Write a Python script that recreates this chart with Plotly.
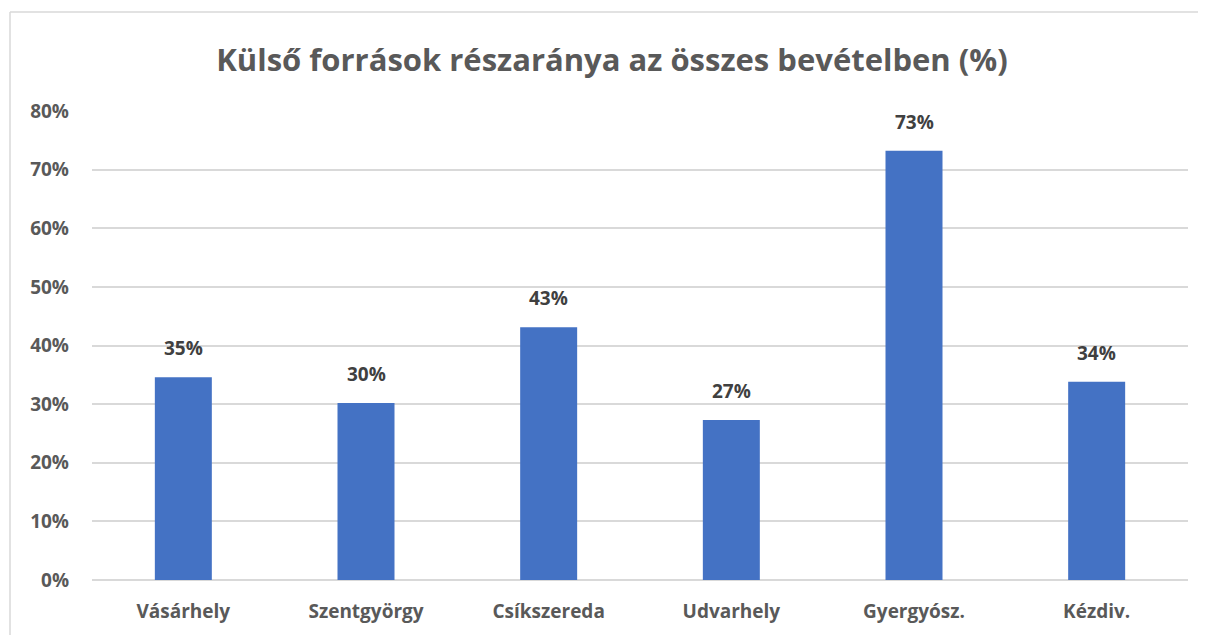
import plotly.graph_objects as go

categories = ["Vásárhely", "Szentgyörgy", "Csíkszereda", "Udvarhely", "Gyergyósz.", "Kézdiv."]
values = [0.346, 0.302, 0.431, 0.273, 0.732, 0.338]
tick_vals = [0, 0.1, 0.2, 0.3, 0.4, 0.5, 0.6, 0.7, 0.8]
title_text = "Külső források részaránya az összes bevételben (%)"

FONT = "'Open Sans', sans-serif"

fig = go.Figure()
fig.add_trace(go.Bar(
    x=categories, y=values,
    marker=dict(color="#4472C4", line=dict(width=0)),
    hoverinfo="x+y",
))

for c, v in zip(categories, values):
    fig.add_annotation(
        x=c, y=v, text=f"{round(v*100):.0f}%", showarrow=False,
        yanchor="bottom", yshift=14,
        font=dict(family=FONT, size=19, color="#404040", weight="bold"),
    )

# page has an 8px body margin, so the figure starts at (8, 8)
W, H = 1198, 627
ml, mr, mt, mb = 84, 18, 103, 55
pw = W - ml - mr
ph = H - mt - mb
# chart border (left and top visible)
bx0 = (2 - ml) / pw
by1 = (H - mb - 4) / ph
fig.add_shape(type="line", xref="paper", yref="paper", x0=bx0, x1=bx0, y0=-0.5, y1=by1,
              line=dict(color="#d9d9d9", width=1.5))
fig.add_shape(type="line", xref="paper", yref="paper", x0=bx0, x1=(W - ml) / pw, y0=by1, y1=by1,
              line=dict(color="#d9d9d9", width=1.5))

fig.update_layout(
    width=W, height=H,
    margin=dict(l=ml, r=mr, t=mt, b=mb),
    paper_bgcolor="white", plot_bgcolor="white",
    bargap=0.688,
    showlegend=False,
    title=dict(text=title_text, x=(604 - ml) / pw, xref="paper", xanchor="center",
               y=1 - 52 / H, yanchor="middle",
               font=dict(family=FONT, size=31, color="#595959", weight="bold")),
    xaxis=dict(showgrid=False, showline=False, ticks="", ticklabelstandoff=18,
               tickfont=dict(family=FONT, size=19, color="#595959", weight="bold")),
    yaxis=dict(range=[0, 0.8], tickvals=tick_vals, tickformat=".0%",
               showgrid=True, gridcolor="#d9d9d9", gridwidth=1.5,
               zeroline=True, zerolinecolor="#d9d9d9", zerolinewidth=1.5,
               showline=False, ticks="", ticklabelstandoff=22,
               tickfont=dict(family=FONT, size=19, color="#595959", weight="bold")),
)
fig.write_html("out.html")
